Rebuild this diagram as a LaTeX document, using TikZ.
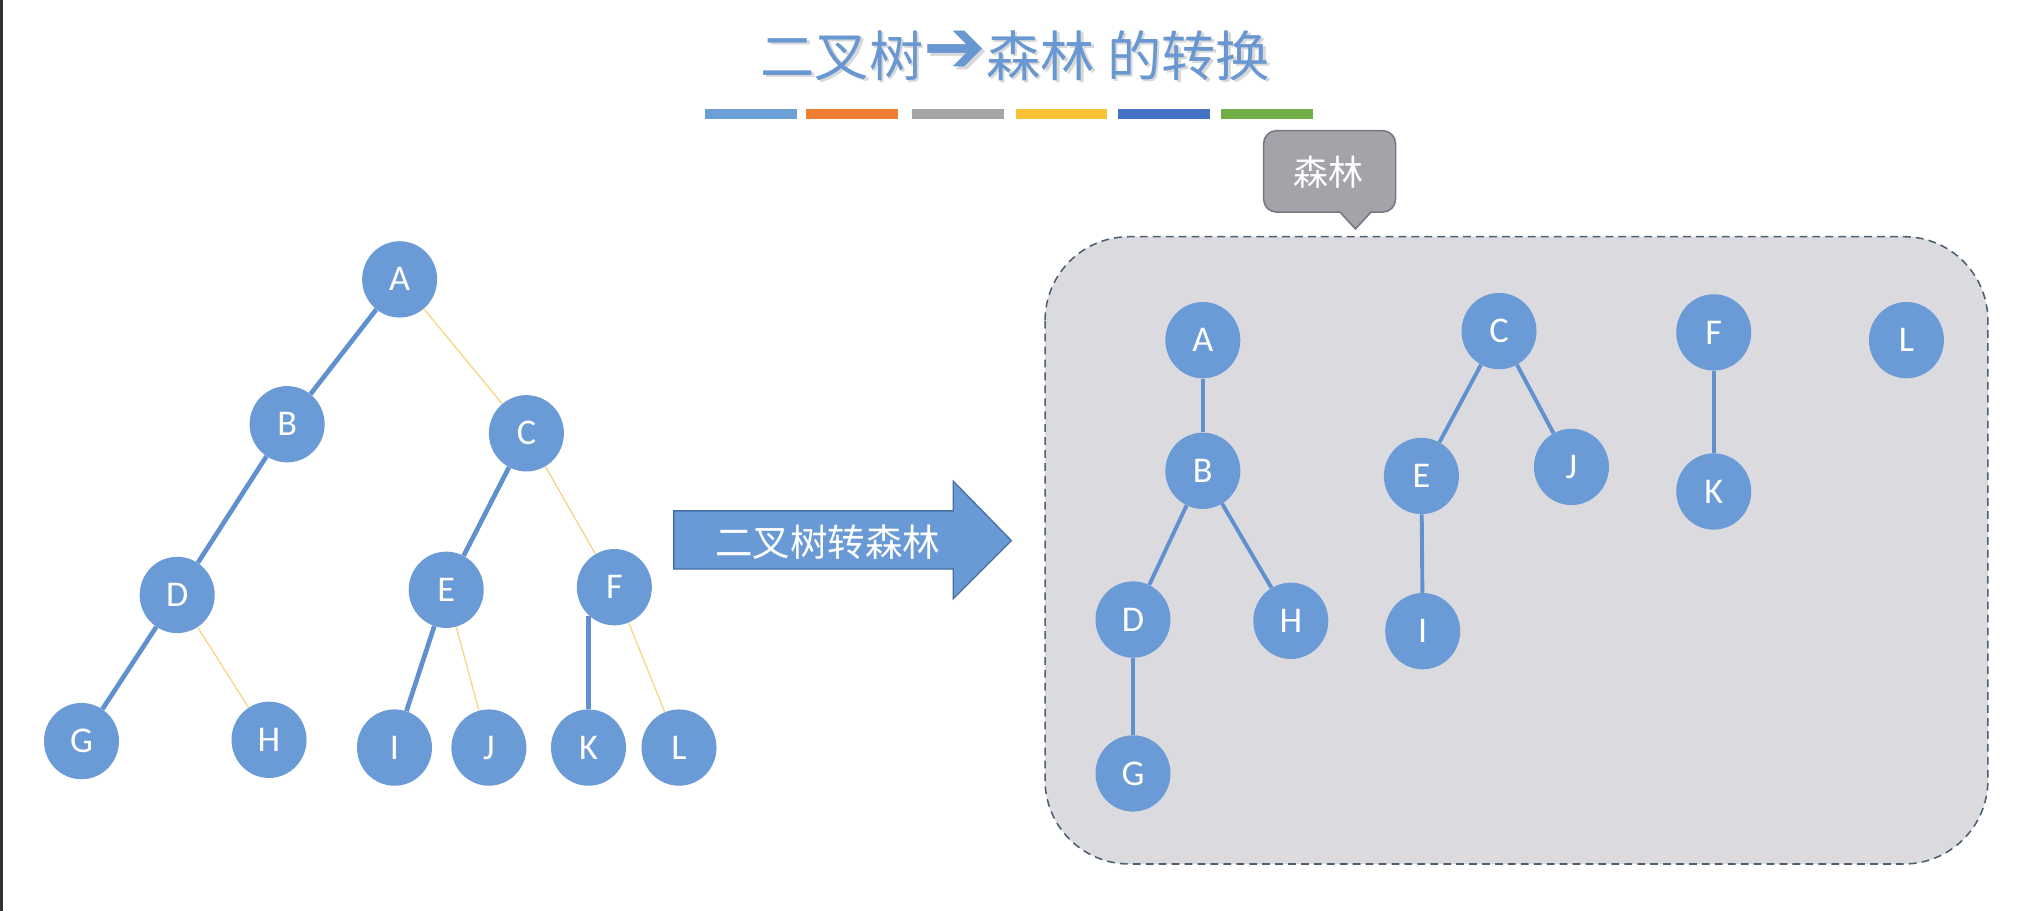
\documentclass[tikz,border=0pt]{standalone}
\usepackage{fontspec}
\setmainfont{Carlito}
\newfontfamily\cjk{Noto Sans CJK SC}
\newfontfamily\djv{DejaVu Sans}
\usetikzlibrary{shapes.geometric,calc}
\definecolor{nodeblue}{RGB}{106,155,214}
\definecolor{edgeblue}{RGB}{96,145,206}
\definecolor{thinyel}{RGB}{250,212,135}
\definecolor{titleblue}{RGB}{104,151,210}
\definecolor{barA}{RGB}{107,160,215}
\definecolor{barB}{RGB}{237,125,49}
\definecolor{barC}{RGB}{165,165,165}
\definecolor{barD}{RGB}{250,195,55}
\definecolor{barE}{RGB}{68,114,196}
\definecolor{barF}{RGB}{112,173,71}
\definecolor{forestfill}{RGB}{219,219,223}
\definecolor{forestline}{RGB}{75,95,115}
\definecolor{calloutfill}{RGB}{163,163,169}
\definecolor{calloutline}{RGB}{115,120,130}
\definecolor{arrowfill}{RGB}{106,154,214}
\definecolor{arrowline}{RGB}{70,110,165}
\begin{document}
\begin{tikzpicture}[x=1pt,y=-1pt,
  tn/.style={ellipse, fill=nodeblue, minimum width=58pt, minimum height=59pt, inner sep=0pt, text=white, font=\fontsize{28}{28}\selectfont},
  thickedge/.style={draw=edgeblue, line width=3.6pt},
  thickedgeR/.style={draw=edgeblue, line width=3pt},
  thinedge/.style={draw=thinyel, line width=1pt},
  colorbar/.style={minimum width=71pt, minimum height=8pt, inner sep=0pt, anchor=west},
  titlefont/.style={font=\cjk\fontsize{42}{42}\selectfont}]
\useasboundingbox (0,0) rectangle (1568,704);
\fill[white] (0,0) rectangle (1568,704);
\fill[black!80] (0,0) rectangle (2,704);

% title
\node[titlefont, text=gray!50, opacity=0.6] (titleshadow) at (787,45) {二叉树{\djv\fontsize{58}{42}\selectfont\raisebox{0.05em}{➔}}森林 的转换};
\node[titlefont, text=titleblue] (title) at (785,43) {二叉树{\djv\fontsize{58}{42}\selectfont\raisebox{0.05em}{➔}}森林 的转换};

% colour bars
\node[colorbar, fill=barA] (bar1) at (545,88) {};
\node[colorbar, fill=barB] (bar2) at (623,88) {};
\node[colorbar, fill=barC] (bar3) at (705,88) {};
\node[colorbar, fill=barD] (bar4) at (785,88) {};
\node[colorbar, fill=barE] (bar5) at (864,88) {};
\node[colorbar, fill=barF] (bar6) at (944,88) {};

% forest area
\draw[fill=forestfill, draw=forestline, line width=1.2pt, dash pattern=on 6pt off 4pt, rounded corners=65pt] (808,183) rectangle (1537,668);

% callout
\draw[fill=calloutfill, draw=calloutline, line width=1.2pt]
  (1048,177) -- (1036,164) [rounded corners=10pt] -- (977,164) -- (977,101) -- (1079,101) -- (1079,164) [sharp corners] -- (1060,164) -- cycle;
\node[font=\cjk\fontsize{27}{27}\selectfont, text=white] (callout) at (1027,133) {森林};

% big arrow
\draw[fill=arrowfill, draw=arrowline, line width=1pt]
  (521,395) -- (737,395) -- (737,372) -- (782,418) -- (737,463) -- (737,440) -- (521,440) -- cycle;
\node[font=\cjk\fontsize{29}{29}\selectfont, text=white] (arrowtext) at (640,419) {二叉树转森林};

% left binary tree
\node[tn] (lA) at (309,216) {A};
\node[tn] (lB) at (222,328) {B};
\node[tn] (lC) at (407,335) {C};
\node[tn] (lD) at (137,460) {D};
\node[tn] (lE) at (345,456) {E};
\node[tn] (lF) at (475,454) {F};
\node[tn] (lG) at (63,573) {G};
\node[tn] (lH) at (208,572) {H};
\node[tn] (lI) at (305,578) {I};
\node[tn] (lJ) at (378,578) {J};
\node[tn] (lK) at (455,578) {K};
\node[tn] (lL) at (525,578) {L};
\draw[thickedge] (lA) -- (lB);
\draw[thickedge] (lB) -- (lD);
\draw[thickedge] (lC) -- (lE);
\draw[thickedge] (lD) -- (lG);
\draw[thickedge] (lE) -- (lI);
\draw[thickedge] (lK.north) -- (lK.north |- lF.228);
\draw[thinedge] (lA) -- (lC);
\draw[thinedge] (lC) -- (lF);
\draw[thinedge] (lD) -- (lH);
\draw[thinedge] (lE) -- (lJ);
\draw[thinedge] (lF) -- (lL);

% right forest
\node[tn] (rA) at (930,263) {A};
\node[tn] (rB) at (930,364) {B};
\node[tn] (rD) at (876,479) {D};
\node[tn] (rH) at (998,480) {H};
\node[tn] (rG) at (876,598) {G};
\node[tn] (rC) at (1159,256) {C};
\node[tn] (rE) at (1099,368) {E};
\node[tn] (rJ) at (1215,361) {J};
\node[tn] (rI) at (1100,488) {I};
\node[tn] (rF) at (1325,257) {F};
\node[tn] (rK) at (1325,380) {K};
\node[tn] (rL) at (1474,263) {L};
\draw[thickedgeR] (rA) -- (rB);
\draw[thickedgeR] (rB) -- (rD);
\draw[thickedgeR] (rB) -- (rH);
\draw[thickedgeR] (rD) -- (rG);
\draw[thickedgeR] (rC) -- (rE);
\draw[thickedgeR] (rC) -- (rJ);
\draw[thickedgeR] (rE) -- (rI);
\draw[thickedgeR] (rF) -- (rK);
\end{tikzpicture}
\end{document}
